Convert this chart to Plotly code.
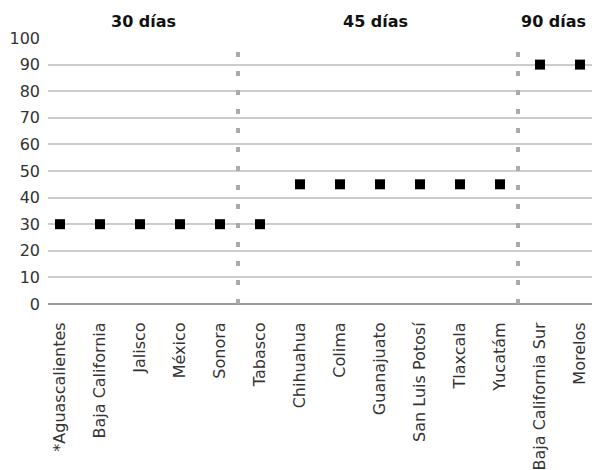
import plotly.graph_objects as go

estados = ["*Aguascalientes", "Baja California", "Jalisco", "México", "Sonora",
           "Tabasco", "Chihuahua", "Colima", "Guanajuato", "San Luis Potosí",
           "Tlaxcala", "Yucatám", "Baja California Sur", "Morelos"]
dias = [30, 30, 30, 30, 30, 30, 45, 45, 45, 45, 45, 45, 90, 90]
grupos = ["30 días", "45 días", "90 días"]
grupo_x = [2.08, 7.88, 12.33]
divisores = [4.45, 11.45]
y_ticks = [0, 10, 20, 30, 40, 50, 60, 70, 80, 90, 100]

font_family = "DejaVu Sans, Liberation Sans, Arial, sans-serif"

fig = go.Figure()
fig.add_trace(go.Scatter(
    x=list(range(len(estados))), y=dias, mode="markers",
    marker=dict(symbol="square", size=10, color="#000000"),
    showlegend=False, cliponaxis=False, hoverinfo="skip",
))

for d in divisores:
    fig.add_shape(type="line", xref="x", yref="y", x0=d, x1=d, y0=0, y1=100,
                  line=dict(color="#aaaaaa", width=4, dash="5px,14px"), layer="above")

for g, gx in zip(grupos, grupo_x):
    fig.add_annotation(x=gx, y=1, xref="x", yref="paper", yanchor="bottom", yshift=5,
                       text=f"<b>{g}</b>", showarrow=False,
                       font=dict(size=16, color="#111111", family=font_family))

fig.update_layout(
    width=592, height=470,
    margin=dict(l=48, r=0, t=38, b=166),
    paper_bgcolor="white", plot_bgcolor="white",
    font=dict(family=font_family, size=16, color="#333333"),
    xaxis=dict(
        range=[-0.3, 13.3], tickmode="array", tickvals=list(range(len(estados))),
        ticktext=estados, tickangle=-90, showgrid=False, zeroline=False,
        showline=False, ticks="outside", ticklen=11, tickcolor="rgba(0,0,0,0)",
        tickfont=dict(size=16), automargin=False,
    ),
    yaxis=dict(
        range=[0, 100], tickvals=y_ticks, showgrid=True, gridcolor="#cccccc",
        gridwidth=2, zeroline=True, zerolinecolor="#999999", zerolinewidth=2,
        showline=False, ticks="", ticklabelstandoff=7,
        tickfont=dict(size=16), automargin=False,
    ),
)

fig.write_html("out.html", config={"displayModeBar": False},
               post_script="document.body.style.margin='0';")
